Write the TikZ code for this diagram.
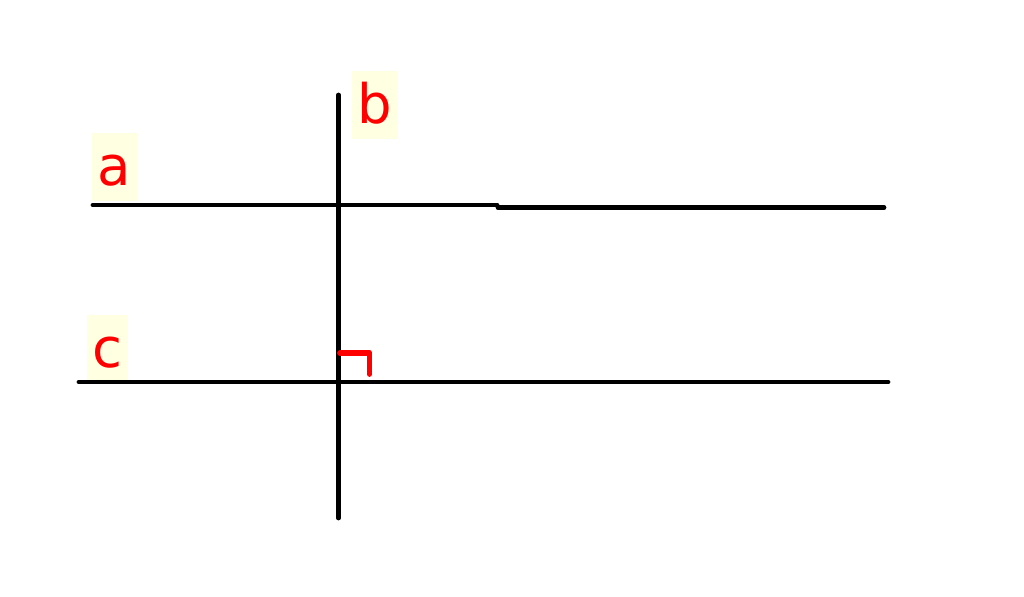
\documentclass[tikz,border=0pt]{standalone}
\usepackage{fontspec}
\setmainfont{DejaVu Sans}
\definecolor{labelbg}{RGB}{255,255,226}
\definecolor{markred}{RGB}{255,0,0}
\tikzset{
    line/.style={line width=0.095cm, black, line cap=round},
    rightmark/.style={line width=0.115cm, markred, line cap=round, line join=round},
    lbl/.style={fill=labelbg, text=markred, font=\fontsize{31}{31}\selectfont,
        anchor=base, inner xsep=0pt, inner ysep=0pt, minimum width=0.9cm,
        text height=1.05cm, text depth=0.32cm},
}

\begin{document}
\begin{tikzpicture}[x=0.02cm, y=-0.02cm]
                \useasboundingbox (0,0) rectangle (1024,596);
                % labels
                \node[lbl] (la) at (114.5,185) {a};
                \node[lbl, minimum width=0.92cm] (lb) at (375,123) {b};
                \node[lbl, minimum width=0.82cm] (lc) at (107.5,367) {c};

                % end points of the lines
                \coordinate (a1) at (93,205);
                \coordinate (a2) at (497,205);
                \coordinate (a3) at (498,207.5);
                \coordinate (a4) at (884,207.5);
                \coordinate (b1) at (338.5,95);
                \coordinate (b2) at (338.5,518);
                \coordinate (c1) at (79,382);
                \coordinate (c2) at (888,382);
                \coordinate (m1) at (340,353);
                \coordinate (m2) at (369.5,353);
                \coordinate (m3) at (369.5,374);

                \draw[line] (a1) -- (a2) (a3) -- (a4);
                \draw[line] (c1) -- (c2);
                \draw[line] (b1) -- (b2);
                \draw[rightmark] (m1) -- (m2) -- (m3);
            \end{tikzpicture}
\end{document}
